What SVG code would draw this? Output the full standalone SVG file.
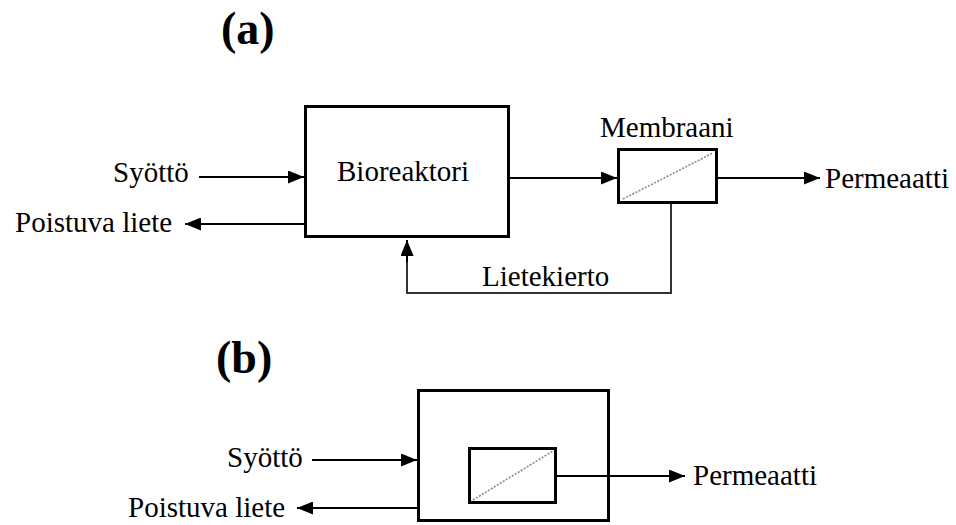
<svg xmlns="http://www.w3.org/2000/svg" width="956" height="525" viewBox="0 0 956 525">
<style>
  text { font-family: 'Liberation Serif', 'Tinos', 'Times New Roman', Times, 'DejaVu Serif', serif; fill: #000; }
  .lbl { font-size: 29px; }
  .title { font-size: 46px; font-weight: bold; }
  .box { fill: none; stroke: #000; stroke-width: 3; }
  .flow { fill: none; stroke: #000; stroke-width: 2; }
  .rec { fill: none; stroke: #333; stroke-width: 2; }
  .memb { stroke: #888; stroke-width: 1.6; stroke-dasharray: 2 1.5; }
</style>
<defs>
  <marker id="ah" viewBox="0 0 16 13" refX="16" refY="6.5" markerWidth="16" markerHeight="13" markerUnits="userSpaceOnUse" orient="auto">
    <path d="M0,0 L16,6.5 L0,13 Z" fill="#000"/>
  </marker>
</defs>
<rect width="956" height="525" fill="#fff"/>

<text class="title" x="221" y="44">(a)</text>
<text class="title" x="216" y="373">(b)</text>

<g id="bioreaktori">
  <rect class="box" x="305.5" y="106.5" width="203" height="130"/>
  <text class="lbl" x="337" y="181">Bioreaktori</text>
</g>

<g id="membraani">
  <rect class="box" x="618.5" y="149.5" width="98" height="53"/>
  <line class="memb" x1="623" y1="199" x2="713" y2="153"/>
  <text class="lbl" x="600" y="137">Membraani</text>
</g>

<g id="labels-a">
  <text class="lbl" x="113" y="182">Syöttö</text>
  <text class="lbl" x="15" y="232">Poistuva liete</text>
  <text class="lbl" x="825" y="188">Permeaatti</text>
  <text class="lbl" x="482" y="286">Lietekierto</text>
</g>

<g id="mbr">
  <rect class="box" x="418.5" y="390.5" width="190" height="130"/>
  <rect class="box" x="469.5" y="448.5" width="86" height="54"/>
  <line class="memb" x1="473" y1="500" x2="553" y2="451"/>
</g>

<g id="labels-b">
  <text class="lbl" x="227" y="467">Syöttö</text>
  <text class="lbl" x="128" y="517">Poistuva liete</text>
  <text class="lbl" x="693" y="485">Permeaatti</text>
</g>

<g id="connectors">
  <line class="flow" x1="199" y1="177" x2="304" y2="177" marker-end="url(#ah)"/>
  <line class="flow" x1="304" y1="224" x2="185" y2="224" marker-end="url(#ah)"/>
  <line class="flow" x1="510" y1="178" x2="617" y2="178" marker-end="url(#ah)"/>
  <line class="flow" x1="718" y1="178" x2="820" y2="178" marker-end="url(#ah)"/>
  <polyline class="rec" points="671,204 671,293 407,293 407,258"/>
  <line class="flow" x1="407" y1="262" x2="407" y2="240" marker-end="url(#ah)"/>
  <line class="flow" x1="312" y1="460" x2="417" y2="460" marker-end="url(#ah)"/>
  <line class="flow" x1="417" y1="508" x2="297" y2="508" marker-end="url(#ah)"/>
  <line class="flow" x1="557" y1="476" x2="685" y2="476" marker-end="url(#ah)"/>
</g>
</svg>
